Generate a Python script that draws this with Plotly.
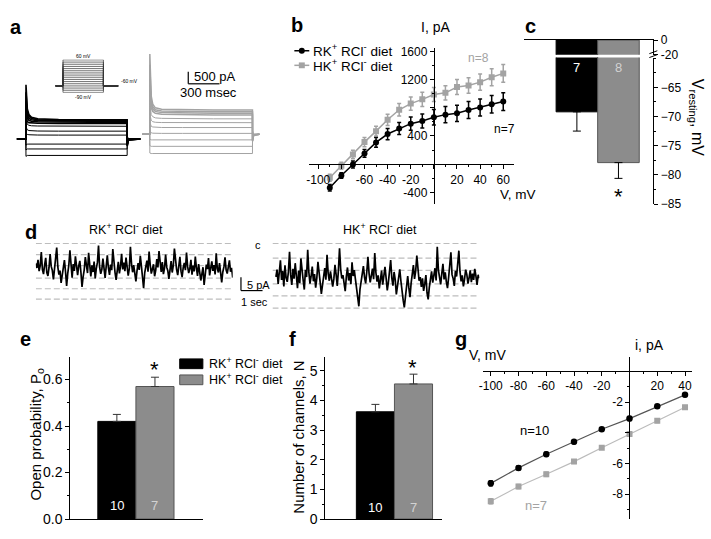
"""
Kir channel figure, panels a-g, rebuilt as one Plotly figure.
Every panel is a pair of axes placed by pixel position on a 711x539 page.
"""

import plotly.graph_objects as go

W, H = 711, 539
FONT = "Liberation Sans, Arial, sans-serif"
BLACK = "#000000"
GREY = "#a3a3a3"
BAR_GREY = "#8c8c8c"
LIGHT = "#d2d2d2"

RK = "RK<sup>+</sup> RCl<sup>-</sup> diet"
HK = "HK<sup>+</sup> RCl<sup>-</sup> diet"

# ── a: whole-cell current families (pA) and voltage protocol ────────────
A_T_LEFT = [0, 86, 87, 92, 100, 115, 140, 200, 400, 700, 1059, 1060, 1070, 1185]
A_T_RIGHT = [1204, 1276, 1277, 1282, 1290, 1305, 1330, 1390, 1590, 1890, 2263, 2264, 2274, 2330]
A_LEFT = [
    [0, 0, 2260, 1650, 1250, 1020, 900, 840, 810, 800, 795, -300, -50, 0],
    [0, 0, 1950, 1450, 1130, 950, 850, 800, 775, 770, 765, -280, -40, 0],
    [0, 0, 1600, 1200, 980, 860, 800, 765, 745, 740, 735, -250, -30, 0],
    [0, 0, 1250, 1000, 860, 780, 740, 720, 705, 700, 700, -220, -20, 0],
    [0, 0, 950, 800, 720, 680, 665, 655, 650, 650, 650, -200, -15, 0],
    [0, 0, 800, 680, 610, 570, 550, 540, 530, 528, 528, -180, -10, 0],
    [0, 0, 500, 420, 380, 350, 340, 330, 325, 325, 325, -120, 0, 0],
    [0, 0, 250, 210, 190, 175, 165, 162, 160, 160, 160, -60, 0, 0],
    [0, 0, -260, -230, -220, -216, -216, -216, -216, -216, -216, 60, 0, 0],
    [0, 0, -460, -430, -420, -420, -420, -420, -420, -420, -420, 90, 0, 0],
    [0, 0, -730, -700, -690, -690, -690, -690, -690, -690, -690, 120, 0, 0],
]
A_RIGHT = [
    [191, 191, 3550, 2400, 1800, 1450, 1300, 1240, 1220, 1210, 1210, -100, 150, 191],
    [191, 191, 3100, 2100, 1600, 1350, 1220, 1170, 1150, 1140, 1140, -80, 150, 191],
    [191, 191, 2600, 1800, 1450, 1250, 1150, 1100, 1080, 1070, 1070, -60, 160, 191],
    [191, 191, 2100, 1550, 1300, 1150, 1070, 1030, 1010, 1000, 1000, -40, 170, 191],
    [191, 191, 1500, 1200, 1020, 930, 880, 860, 845, 840, 840, 0, 180, 191],
    [191, 191, 1050, 880, 780, 720, 695, 685, 680, 680, 680, 50, 185, 191],
    [191, 191, 700, 590, 530, 500, 485, 478, 476, 476, 476, 100, 191, 191],
    [191, 191, 320, 280, 255, 240, 235, 232, 232, 232, 232, 170, 191, 191],
    [191, 191, -20, -35, -40, -40, -40, -40, -40, -40, -40, 250, 191, 191],
    [191, 191, -280, -300, -310, -310, -310, -310, -310, -310, -310, 280, 191, 191],
    [191, 191, -590, -605, -610, -610, -610, -610, -610, -610, -610, 320, 191, 191],
]
PROTO_T = [0, 187, 187, 1187, 1187, 1556]
PROTO_HOLD = -60
PROTO_STEPS = [-90, -80, -70, -60, -50, -40, -30, -20, -10, 0, 10, 20, 30, 40, 50, 60]

# ── b: I-V relation ──────────────────────────────────────────────────────
B_V = [-90, -80, -70, -60, -50, -40, -30, -20, -10, 0, 10, 20, 30, 40, 50, 60]
B_RK = [-335, -160, -5, 152, 309, 428, 506, 575, 612, 667, 703, 722, 768, 805, 851, 888]
B_RK_ERR = [45, 40, 50, 55, 70, 80, 85, 95, 100, 110, 115, 115, 120, 120, 125, 125]
B_HK = [-193, -22, 138, 313, 469, 630, 772, 860, 920, 989, 1012, 1095, 1117, 1164, 1233, 1288]
B_HK_ERR = [50, 50, 60, 65, 70, 80, 90, 95, 100, 100, 100, 105, 110, 115, 120, 125]
B_XTICKS = [-100, -80, -60, -40, -20, 0, 20, 40, 60]
B_XTEXT = ["-100", "", "-60", "-40", "-20", "", "20", "40", "60"]
B_YTICKS = [-400, 0, 400, 800, 1200, 1600]
B_YTEXT = ["-400", "", "400", "", "1200", "1600"]

# ── c: resting potential (mV) ────────────────────────────────────────────
C_X = [1, 2]
C_VREST = [-69.2, -77.9]
C_ERR = [3.3, 2.7]
C_N = ["7", "8"]

# ── d: single-channel recordings (pA, closed = 0) ────────────────────────
D_LEFT_LEVELS = [0, -4.2, -8.3, -13.0, -17.0, -20.9]
D_RIGHT_LEVELS = [0, -5.5, -10.1, -15.2, -19.7, -24.3]
D_LEFT = [
    -7.5, -9.2, -6.1, -10.4, -8.3, -3.2, -9.8, -11.5, -8.0, -5.4,
    -10.9, -12.2, -9.1, -4.0, -8.6, -10.1, -13.5, -9.7, -7.3, -1.5,
    -8.8, -11.7, -10.2, -14.8, -12.0, -9.4, -6.2, -10.6, -15.9, -11.3,
    -8.1, -2.6, -9.5, -12.8, -7.7, -10.3, -4.8, -9.0, -11.9, -8.4,
    -6.5, -10.8, -16.3, -12.5, -9.9, -5.1, -8.7, -11.1, -3.5, -9.6,
    -12.4, -8.2, -10.7, -6.8, -13.1, -9.3, -7.1, -0.8, -8.9, -11.4,
    -9.8, -5.7, -10.5, -12.9, -8.5, -4.4, -9.1, -11.8, -7.9, -10.0,
    -2.1, -8.3, -10.9, -13.7, -9.4, -6.9, -11.2, -8.6, -3.9, -9.7,
    -7.2, -10.4, -5.3, -8.8, -12.1, -9.5, -1.2, -7.6, -10.8, -8.1,
    -11.6, -14.2, -10.3, -7.4, -9.9, -4.6, -8.5, -12.7, -16.8, -11.0,
    -9.2, -6.4, -10.6, -3.0, -8.0, -11.3, -9.6, -7.8, -12.3, -10.1,
    -5.9, -9.0, -2.8, -8.4, -10.7, -7.0, -11.5, -9.3, -4.2, -8.9,
    -10.2, -13.3, -9.7, -6.6, -10.9, -8.2, -1.9, -7.5, -9.8, -11.9,
    -8.7, -5.0, -10.4, -12.6, -9.1, -7.3, -10.0, -3.4, -8.6, -11.1,
    -9.5, -6.1, -11.7, -8.3, -10.5, -4.9, -9.2, -12.2, -7.7, -10.8,
    -13.9, -11.4, -8.9, -15.6, -10.1, -7.9, -9.6, -5.5, -12.0, -9.0,
    -6.7, -10.3, -8.1, -11.6, -3.7, -9.4, -10.9, -7.4, -12.5, -14.6,
    -10.7, -8.8, -5.2, -9.9, -11.3, -8.0, -6.3, -10.6, -9.1, -12.8,
]
D_RIGHT = [
    -12.5, -9.8, -15.2, -11.0, -6.3, -13.7, -10.4, -16.1, -8.2, -12.9,
    -14.4, -10.7, -3.1, -11.8, -15.6, -9.5, -13.2, -7.4, -12.1, -16.8,
    -10.2, -14.9, -5.6, -11.4, -13.8, -17.3, -9.9, -12.6, -2.4, -10.8,
    -15.1, -12.3, -8.7, -14.2, -11.5, -16.6, -13.0, -6.9, -10.1, -14.7,
    -18.9, -15.4, -12.0, -9.2, -13.6, -4.2, -11.2, -14.0, -10.5, -12.8,
    -16.2, -13.3, -8.0, -11.7, -15.9, -10.3, -1.8, -9.6, -13.1, -11.9,
    -14.8, -17.9, -12.4, -9.0, -13.9, -11.1, -15.3, -7.1, -12.2, -10.0,
    -13.5, -16.4, -20.5, -23.6, -17.2, -14.1, -11.6, -8.5, -12.7, -15.0,
    -10.6, -5.0, -11.3, -14.6, -12.1, -9.4, -13.4, -3.6, -10.9, -14.3,
    -12.0, -16.9, -13.7, -10.2, -15.5, -11.8, -8.8, -13.0, -17.6, -14.5,
    -11.4, -6.2, -12.9, -15.8, -10.7, -13.6, -19.1, -16.0, -12.5, -9.7,
    -14.1, -18.4, -21.3, -24.0, -19.5, -15.7, -12.2, -16.7, -20.2, -14.9,
    -11.0, -8.1, -13.3, -10.4, -4.5, -11.5, -14.0, -12.6, -16.3, -13.1,
    -17.8, -15.2, -11.9, -18.6, -21.0, -16.5, -13.8, -10.5, -14.7, -12.3,
    -9.3, -13.9, -1.2, -10.0, -12.8, -15.4, -11.2, -7.6, -13.5, -10.8,
    -14.4, -16.8, -12.7, -9.1, -3.3, -11.7, -13.2, -15.9, -10.3, -12.4,
    -8.4, -2.7, -10.6, -14.2, -12.0, -16.1, -13.4, -9.8, -11.6, -15.1,
    -12.9, -10.1, -14.5, -11.3, -13.7, -9.5, -12.2, -15.6, -11.8, -13.0,
]

# ── e / f: open probability and channel number ───────────────────────────
E_X = [1, 2]
E_PO = [0.42, 0.57]
E_ERR = [0.03, 0.04]
F_NCH = [3.62, 4.56]
F_ERR = [0.25, 0.33]
EF_N = ["10", "7"]

# ── g: single-channel i-V ────────────────────────────────────────────────
G_V = [-100, -80, -60, -40, -20, 0, 20, 40]
G_RK = [-7.30, -6.29, -5.40, -4.59, -3.77, -3.07, -2.27, -1.52]
G_HK = [-8.47, -7.51, -6.71, -5.88, -4.97, -4.08, -3.22, -2.33]
G_ERR = [0.18, 0.15, 0.15, 0.13, 0.12, 0.15, 0.12, 0.12]
G_XTICKS = [-100, -80, -60, -40, -20, 0, 20, 40]
G_XTEXT = ["-100", "-80", "-60", "-40", "-20", "", "20", "40"]
G_YTICKS = [-2, -4, -6, -8]
G_YTEXT = ["-2", "", "-6", "-8"]


def fx(px):
    return px / W


def fy(py):
    return 1 - py / H


def dom_x(left, right):
    return [fx(left), fx(right)]


def dom_y(top, bottom):
    return [fy(bottom), fy(top)]


HIDDEN = dict(visible=False, showgrid=False, zeroline=False)
AXIS = dict(showgrid=False, zeroline=False, showline=True, linecolor=BLACK, linewidth=1.2,
            ticks="outside", ticklen=4, tickwidth=1.2, tickcolor=BLACK,
            tickfont=dict(family=FONT, size=12, color=BLACK))


def label(px, py, text, size=12, color=BLACK, xanchor="center", yanchor="middle", angle=0):
    return dict(x=fx(px), y=fy(py), xref="paper", yref="paper", text=text, showarrow=False,
                font=dict(family=FONT, size=size, color=color),
                xanchor=xanchor, yanchor=yanchor, textangle=angle)


def line_shape(x0, y0, x1, y1, color=BLACK, width=1.2):
    return dict(type="line", xref="paper", yref="paper", x0=fx(x0), y0=fy(y0), x1=fx(x1), y1=fy(y1),
                line=dict(color=color, width=width))


fig = go.Figure()

# ═══════════════════════════════════════════════════════════════════════════
# a — current families + inset protocol
# ═══════════════════════════════════════════════════════════════════════════
for i, row in enumerate(A_LEFT):
    fig.add_trace(go.Scatter(x=A_T_LEFT, y=row, mode="lines",
                             line=dict(color=BLACK, width=1.6 if i < 5 else 1),
                             xaxis="x", yaxis="y", hoverinfo="skip"))
for i, row in enumerate(A_RIGHT):
    fig.add_trace(go.Scatter(x=A_T_RIGHT, y=row, mode="lines",
                             line=dict(color=GREY, width=1.5 if i < 4 else 1),
                             xaxis="x", yaxis="y", hoverinfo="skip"))
for v in PROTO_STEPS:
    fig.add_trace(go.Scatter(x=PROTO_T, y=[PROTO_HOLD, PROTO_HOLD, v, v, PROTO_HOLD, PROTO_HOLD],
                             mode="lines", line=dict(color="#333333", width=0.7),
                             xaxis="x2", yaxis="y2", hoverinfo="skip"))

# ═══════════════════════════════════════════════════════════════════════════
# b — whole-cell I-V
# ═══════════════════════════════════════════════════════════════════════════
fig.add_trace(go.Scatter(
    x=B_V, y=B_HK, mode="lines+markers", xaxis="x3", yaxis="y3",
    line=dict(color=GREY, width=1.5), marker=dict(symbol="square", size=6, color=GREY),
    error_y=dict(type="data", array=B_HK_ERR, color=GREY, thickness=1.5, width=2),
))
fig.add_trace(go.Scatter(
    x=B_V, y=B_RK, mode="lines+markers", xaxis="x3", yaxis="y3",
    line=dict(color=BLACK, width=1.5), marker=dict(symbol="circle", size=6, color=BLACK),
    error_y=dict(type="data", array=B_RK_ERR, color=BLACK, thickness=1.5, width=2),
))

# ═══════════════════════════════════════════════════════════════════════════
# c — resting potential, broken axis (top piece x4/y4, bottom piece x5/y5)
# ═══════════════════════════════════════════════════════════════════════════
bar_colors = [BLACK, BAR_GREY]
bar_lines = [BLACK, "#555555"]
for xa, ya, err in [("x4", "y4", None), ("x5", "y5", C_ERR)]:
    fig.add_trace(go.Bar(
        x=C_X, y=C_VREST, width=1, xaxis=xa, yaxis=ya,
        marker=dict(color=bar_colors, line=dict(color=bar_lines, width=1)),
        error_y=None if err is None else dict(type="data", symmetric=False, array=[0, 0],
                                              arrayminus=err, color=BLACK, thickness=1, width=4),
    ))

# ═══════════════════════════════════════════════════════════════════════════
# d — single-channel traces with dashed current levels
# ═══════════════════════════════════════════════════════════════════════════
for levels, trace, xa, ya, x0 in [(D_LEFT_LEVELS, D_LEFT, "x6", "y6", 0),
                                  (D_RIGHT_LEVELS, D_RIGHT, "x7", "y7", -3)]:
    for lv in levels:
        fig.add_trace(go.Scatter(x=[x0, len(trace) - 1], y=[lv, lv], mode="lines",
                                 line=dict(color="#bdbdbd", width=1.2, dash="6px,3px"),
                                 xaxis=xa, yaxis=ya, hoverinfo="skip"))
    fig.add_trace(go.Scatter(x=list(range(len(trace))), y=trace, mode="lines",
                             line=dict(color=BLACK, width=1.7), xaxis=xa, yaxis=ya, hoverinfo="skip"))

# ═══════════════════════════════════════════════════════════════════════════
# e / f — Po and N bars
# ═══════════════════════════════════════════════════════════════════════════
for vals, errs, xa, ya in [(E_PO, E_ERR, "x8", "y8"), (F_NCH, F_ERR, "x9", "y9")]:
    fig.add_trace(go.Bar(
        x=E_X, y=vals, width=1, xaxis=xa, yaxis=ya,
        marker=dict(color=bar_colors, line=dict(color=bar_lines, width=1)),
        error_y=dict(type="data", symmetric=False, array=errs, arrayminus=[0, 0],
                     color="#333333", thickness=1, width=4),
    ))

# ═══════════════════════════════════════════════════════════════════════════
# g — single-channel i-V
# ═══════════════════════════════════════════════════════════════════════════
fig.add_trace(go.Scatter(
    x=G_V, y=G_HK, mode="lines+markers", xaxis="x10", yaxis="y10",
    line=dict(color="#bcbcbc", width=1.2), marker=dict(symbol="square", size=6, color=GREY),
    error_y=dict(type="data", array=G_ERR, color=GREY, thickness=1, width=2),
))
fig.add_trace(go.Scatter(
    x=G_V, y=G_RK, mode="lines+markers", xaxis="x10", yaxis="y10",
    line=dict(color="#555555", width=1.2), marker=dict(symbol="circle", size=6.5, color=BLACK),
    error_y=dict(type="data", array=G_ERR, color=BLACK, thickness=1, width=2),
))

# ── axes ─────────────────────────────────────────────────────────────────
layout_axes = dict(
    # a
    xaxis=dict(HIDDEN, domain=dom_x(5, 265), range=[-76.4, 2407.6]),
    yaxis=dict(HIDDEN, domain=dom_y(40, 165), range=[-1191, 3890]),
    xaxis2=dict(HIDDEN, domain=dom_x(51.7, 115), range=[0, 1556]),
    yaxis2=dict(HIDDEN, domain=dom_y(54, 88.3), range=[-92, 62]),
    # b
    xaxis3=dict(AXIS, domain=dom_x(306.7, 513), range=[-108, 69.4], anchor="free", position=fy(161.7),
                tickvals=B_XTICKS, ticktext=B_XTEXT,
                minor=dict(dtick=10, ticks="outside", ticklen=2, tickcolor=BLACK)),
    yaxis3=dict(AXIS, domain=dom_y(42, 203), range=[-570, 1651], anchor="free", position=fx(432.3),
                tickvals=B_YTICKS, ticktext=B_YTEXT,
                minor=dict(dtick=200, ticks="outside", ticklen=2, tickcolor=BLACK)),
    # c
    xaxis4=dict(AXIS, domain=dom_x(523, 653), range=[-0.271, 2.839], anchor="y4", side="top",
                ticks="", showticklabels=False),
    yaxis4=dict(AXIS, domain=dom_y(34, 49), range=[-20, 0], anchor="x4", side="right",
                tickvals=[0, -20], ticktext=["0", "-20"]),
    xaxis5=dict(HIDDEN, domain=dom_x(523, 653), range=[-0.271, 2.839], anchor="y5"),
    yaxis5=dict(AXIS, domain=dom_y(52, 202.7), range=[-85, -59.9], anchor="x5", side="right",
                tickvals=[-65, -70, -75, -80, -85],
                minor=dict(dtick=2.5, ticks="outside", ticklen=2, tickcolor=BLACK)),
    # d
    xaxis6=dict(HIDDEN, domain=dom_x(32, 230), range=[0, len(D_LEFT) - 1]),
    yaxis6=dict(HIDDEN, domain=dom_y(238, 318), range=[-27.3, 1.93]),
    xaxis7=dict(HIDDEN, domain=dom_x(270, 478), range=[-3, len(D_RIGHT) - 1]),
    yaxis7=dict(HIDDEN, domain=dom_y(238, 318), range=[-27.3, 1.93]),
    # e
    xaxis8=dict(AXIS, domain=dom_x(66.7, 200), range=[-0.222, 3.258], anchor="y8",
                ticks="", showticklabels=False),
    yaxis8=dict(AXIS, domain=dom_y(360, 526.7), range=[0, 0.697], anchor="x8",
                dtick=0.2, tickformat=".1f", tickfont=dict(family=FONT, size=14, color=BLACK),
                minor=dict(dtick=0.1, ticks="outside", ticklen=2, tickcolor=BLACK)),
    # f
    xaxis9=dict(AXIS, domain=dom_x(323.3, 440), range=[-0.311, 2.736], anchor="y9",
                ticks="", showticklabels=False),
    yaxis9=dict(AXIS, domain=dom_y(360, 526.7), range=[0, 5.47], anchor="x9",
                dtick=1, tickfont=dict(family=FONT, size=14, color=BLACK),
                minor=dict(dtick=0.5, ticks="outside", ticklen=2, tickcolor=BLACK)),
    # g
    xaxis10=dict(AXIS, domain=dom_x(481.7, 691.7), range=[-105.6, 44.9], anchor="free",
                 position=fy(374.3), tickvals=G_XTICKS, ticktext=G_XTEXT,
                 minor=dict(dtick=10, ticks="outside", ticklen=2, tickcolor=BLACK)),
    yaxis10=dict(AXIS, domain=dom_y(360, 526.7), range=[-9.63, 0.952], anchor="free",
                 position=fx(629), tickvals=G_YTICKS, ticktext=G_YTEXT,
                 minor=dict(dtick=1, ticks="outside", ticklen=2, tickcolor=BLACK)),
)

# ── text ─────────────────────────────────────────────────────────────────
ann = []
for letter, px, py in [("a", 12, 21), ("b", 295, 19), ("c", 529, 20), ("d", 27, 231),
                       ("e", 22, 342), ("f", 290, 342), ("g", 460, 342)]:
    ann.append(label(px, py, f"<b>{letter}</b>", size=20))

# a
ann += [
    label(189, 71, "500 pA", size=13, xanchor="left"),
    label(206, 88, "300 msec", size=13),
    label(80, 50, "60 mV", size=5),
    label(116, 76, "-60 mV", size=5, xanchor="left"),
    label(80, 93, "-90 mV", size=5),
]
# b
ann += [
    label(434, 21, "I, pA", size=14),
    label(309, 44, RK, size=13.5, xanchor="left"),
    label(309, 60, HK, size=13.5, xanchor="left"),
    label(477, 52, "n=8", size=12, color=GREY),
    label(503, 125, "n=7", size=12),
    label(517, 193, "V, mV", size=13.5),
]
# c
ann += [
    label(576, 62, C_N[0], size=13, color="#ffffff"),
    label(618, 62, C_N[1], size=13, color=LIGHT),
    label(618, 195, "*", size=22),
    label(696, 113, "V<sub>resting</sub>, mV", size=16, angle=90),
]
# d
ann += [
    label(123, 228, RK, size=12.5),
    label(378, 228, HK, size=12.5),
    label(255, 245, "c", size=11),
    label(242, 286, "5 pA", size=11, xanchor="left"),
    label(252, 303, "1 sec", size=11),
]
# e
ann += [
    label(151.7, 373, "*", size=22),
    label(113.5, 513, EF_N[0], size=13, color="#ffffff"),
    label(151.8, 513, EF_N[1], size=13, color=LIGHT),
    label(204, 366, RK, size=12.5, xanchor="left"),
    label(204, 383, HK, size=12.5, xanchor="left"),
    label(33, 440, "Open probability, P<sub>o</sub>", size=15, angle=-90),
]
# f
ann += [
    label(410.7, 371, "*", size=22),
    label(373.5, 515, EF_N[0], size=13, color="#ffffff"),
    label(411.8, 515, EF_N[1], size=13, color=LIGHT),
    label(296.7, 443, "Number of channels, N", size=15, angle=-90),
]
# g
ann += [
    label(486, 358, "V, mV", size=14),
    label(649, 348, "i, pA", size=14),
    label(533, 436, "n=10", size=13),
    label(535, 513, "n=7", size=13, color=GREY),
]

# ── decorations: scale bars, legend glyphs, axis break ───────────────────
shapes = [
    # a scale bar
    line_shape(185.3, 66.7, 185.3, 79), line_shape(185.3, 79, 216.7, 79),
    # d scale bar
    line_shape(238.3, 278, 238.3, 291.7), line_shape(238.3, 291.7, 260, 291.7),
    # b legend
    line_shape(292, 45, 307, 45, BLACK, 1.5), line_shape(292, 60, 307, 60, GREY, 1.5),
    dict(type="circle", xref="paper", yref="paper", x0=fx(296.5), x1=fx(302.5), y0=fy(48), y1=fy(42),
         fillcolor=BLACK, line=dict(width=0)),
    dict(type="rect", xref="paper", yref="paper", x0=fx(296.5), x1=fx(302.5), y0=fy(63), y1=fy(57),
         fillcolor=GREY, line=dict(width=0)),
    # e legend
    dict(type="rect", xref="paper", yref="paper", x0=fx(176.7), x1=fx(200), y0=fy(372), y1=fy(362),
         fillcolor=BLACK, line=dict(color=BLACK, width=1)),
    dict(type="rect", xref="paper", yref="paper", x0=fx(176.7), x1=fx(200), y0=fy(388.5), y1=fy(378.5),
         fillcolor=BAR_GREY, line=dict(color="#555555", width=1)),
    # c axis break marks
    line_shape(649, 48, 657, 45, BLACK, 1), line_shape(649, 52, 657, 49, BLACK, 1),
]

fig.update_layout(
    width=W, height=H,
    margin=dict(l=0, r=0, t=0, b=0),
    paper_bgcolor="#ffffff", plot_bgcolor="rgba(0,0,0,0)",
    font=dict(family=FONT, color=BLACK),
    showlegend=False, barmode="overlay",
    annotations=ann, shapes=shapes,
    **layout_axes,
)

fig.write_html("out.html", config={"displayModeBar": False},
               post_script="document.body.style.margin='0';")
